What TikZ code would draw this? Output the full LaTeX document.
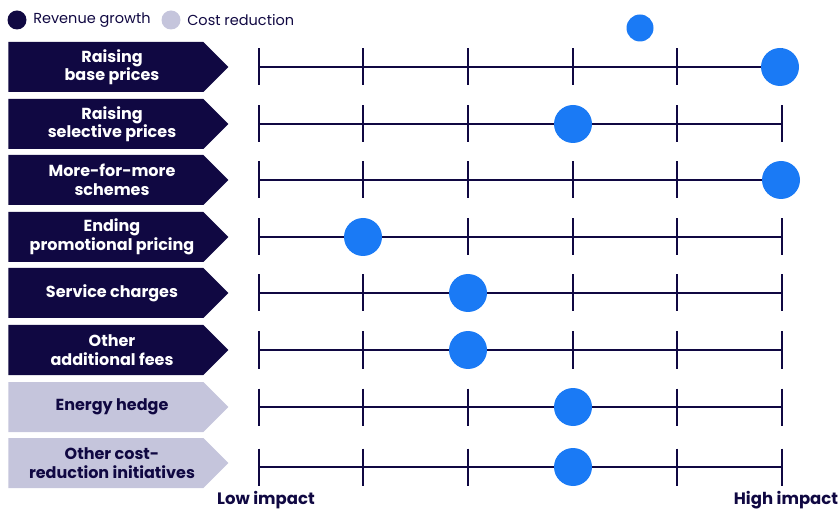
\documentclass[tikz,border=0pt]{standalone}
\usepackage{fontspec}
\setmainfont{Poppins}
\usetikzlibrary{shapes.symbols,positioning}

\definecolor{navy}{RGB}{16,8,66}
\definecolor{lavender}{RGB}{197,197,220}
\definecolor{dotblue}{RGB}{26,122,245}

\begin{document}
\begin{tikzpicture}[x=1pt, y=-1pt, thick,
    lever/.style={signal, signal to=east, signal pointer angle=90,
        minimum width=220pt, minimum height=50pt, inner sep=0pt, anchor=west},
    revenue/.style={lever, fill=navy},
    cost/.style={lever, fill=lavender},
    revenuetext/.style={text=white},
    costtext/.style={text=navy},
    levertext/.style={align=center, inner sep=0pt,
        font=\fontsize{16}{18.5}\selectfont\bfseries},
    axis/.style={draw=navy, line width=1.1pt},
    dot/.style={circle, fill=dotblue, inner sep=0pt, minimum size=38pt},
    key/.style={circle, inner sep=0pt, minimum size=19pt},
    keytext/.style={anchor=west, inner sep=0pt, text=navy, font=\fontsize{14.5}{16}\selectfont},
    impact/.style={text=navy, inner sep=0pt, font=\fontsize{16.5}{18}\selectfont\bfseries}]

    \useasboundingbox (0,0) rectangle (840,510);

    % legend
    \node[key, fill=navy] (keyrev) at (17,20) {};
    \node[keytext, right=6pt of keyrev] (keyrevtext) {Revenue growth};
    \node[key, fill=lavender] (keycost) at (171,20) {};
    \node[keytext, right=6pt of keycost] (keycosttext) {Cost reduction};
    \node[dot, minimum size=27pt] (stray) at (640,28) {};

    % levers: box y / line y / kind / text / dot x
    \foreach \by/\y/\kind/\txt/\dx [count=\i] in {
        67/67/revenue/{Raising\\base prices}/780,
        124/124/revenue/{Raising\\selective prices}/573,
        180/180/revenue/{More-for-more\\schemes}/781,
        237/237/revenue/{Ending\\promotional pricing}/363,
        293/293/revenue/{Service charges}/468,
        350/350/revenue/{Other\\additional fees}/468,
        407/407/cost/{Energy hedge}/573,
        463/467/cost/{Other cost-\\reduction initiatives}/573} {
        \node[\kind] (lever\i) at (8,\by) {};
        \node[levertext, \kind text] (levertext\i) at (112,\by) {\txt};
        \coordinate (low\i) at (259,\y);
        \coordinate (high\i) at (782,\y);
        \draw[axis] (low\i) -- (high\i);
        \foreach \tx in {259,363,468,573,677,782}
            \draw[axis] (\tx,\y-18.5) -- (\tx,\y+18.5);
        \node[dot] (dot\i) at (\dx,\y) {};
    }

    % scale ends
    \node[impact] (lowimpact) at (266,500) {Low impact};
    \node[impact] (highimpact) at (786,500) {High impact};

\end{tikzpicture}
\end{document}
